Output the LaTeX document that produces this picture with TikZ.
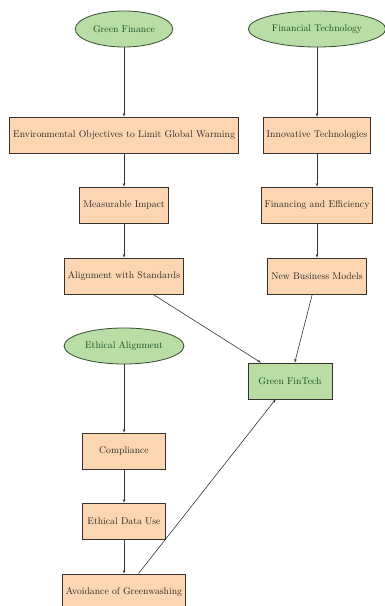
\documentclass[tikz,border=0pt]{standalone}
\usetikzlibrary{shapes.geometric,arrows.meta}
\definecolor{leaf}{RGB}{184,222,166}
\definecolor{leafline}{RGB}{55,75,50}
\definecolor{leaftext}{RGB}{25,75,30}
\definecolor{peach}{RGB}{252,214,178}
\definecolor{peachline}{RGB}{55,50,45}
\definecolor{peachtext}{RGB}{45,38,33}
\begin{document}
\begin{tikzpicture}[x=1pt,y=1pt,
  every node/.style={font=\fontsize{9.7pt}{11.6pt}\selectfont},
  root/.style={ellipse, draw=leafline, line width=0.8pt, fill=leaf, text=leaftext,
    inner xsep=3.5pt, minimum height=36pt},
  stage/.style={rectangle, draw=peachline, line width=0.9pt, fill=peach, text=peachtext,
    inner xsep=3.5pt, minimum height=36pt, minimum width=83pt},
  goal/.style={rectangle, draw=peachline, line width=0.9pt, fill=leaf, text=leaftext,
    inner xsep=3.5pt, minimum height=36pt, minimum width=84pt},
  link/.style={-{Stealth[length=3.5pt,width=2.6pt]}, line width=0.6pt, draw=black!80}]
\useasboundingbox (0,0) rectangle (385,606);

% left column: green finance
\node[root]  (gf)    at (124,577) {Green Finance};
\node[stage] (env)   at (124,471) {Environmental Objectives to Limit Global Warming};
\node[stage] (meas)  at (124,401) {Measurable Impact};
\node[stage] (align) at (124,330) {Alignment with Standards};

% right column: financial technology
\node[root]  (ft)    at (317,577) {Financial Technology};
\node[stage] (innov) at (317,471) {Innovative Technologies};
\node[stage] (fineff) at (317,401) {Financing and Efficiency};
\node[stage] (nbm)   at (317,330) {New Business Models};

% lower column: ethical alignment
\node[root]  (ea)    at (124,260) {Ethical Alignment};
\node[stage] (comp)  at (124,155) {Compliance};
\node[stage] (edu)   at (124,85)  {Ethical Data Use};
\node[stage] (avoid) at (124,14)  {Avoidance of Greenwashing};

% convergence
\node[goal]  (gft)   at (290,225) {Green FinTech};

\draw[link] (gf) -- (env);
\draw[link] (env) -- (meas);
\draw[link] (meas) -- (align);
\draw[link] (ft) -- (innov);
\draw[link] (innov) -- (fineff);
\draw[link] (fineff) -- (nbm);
\draw[link] (ea) -- (comp);
\draw[link] (comp) -- (edu);
\draw[link] (edu) -- (avoid);
\draw[link] (align) -- (gft);
\draw[link] (nbm) -- (gft);
\draw[link] (avoid) -- (gft);
\end{tikzpicture}
\end{document}
